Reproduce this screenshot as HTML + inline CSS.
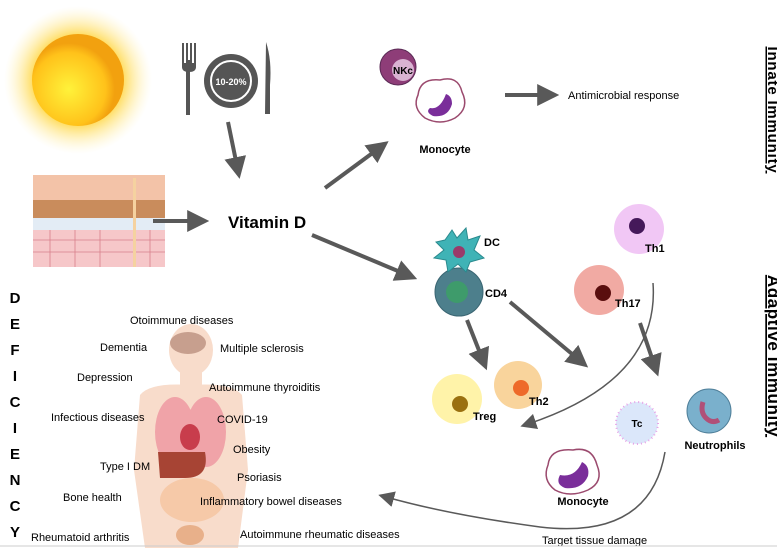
<!DOCTYPE html>
<html><head><meta charset="utf-8"><style>
body{margin:0;background:#fff;}
svg{display:block;font-family:"Liberation Sans",sans-serif;}
.b{font-weight:bold;}
</style></head><body>
<svg width="777" height="548" viewBox="0 0 777 548" xmlns="http://www.w3.org/2000/svg">
<defs>
<radialGradient id="glow"><stop offset="0.6" stop-color="#ffd84a" stop-opacity="0.9"/><stop offset="1" stop-color="#fff3c0" stop-opacity="0"/></radialGradient>
<radialGradient id="sun" cx="0.4" cy="0.6"><stop offset="0" stop-color="#fff23a"/><stop offset="0.8" stop-color="#ffc21a"/><stop offset="1" stop-color="#f2a10f"/></radialGradient>
<marker id="ah" viewBox="0 0 10 10" refX="4" refY="5" markerWidth="5.5" markerHeight="5.5" orient="auto"><path d="M0,0 L10,5 L0,10 z" fill="#595959"/></marker>
<marker id="ah2" viewBox="0 0 10 10" refX="5" refY="5" markerWidth="16" markerHeight="16" markerUnits="userSpaceOnUse" orient="auto"><path d="M0,0 L10,5 L0,10 z" fill="#595959"/></marker>
</defs>
<rect width="777" height="548" fill="#fff"/>
<!-- sun -->
<circle cx="78" cy="80" r="74" fill="url(#glow)"/>
<circle cx="78" cy="80" r="46" fill="url(#sun)"/>
<!-- plate -->
<rect x="186" y="60" width="4" height="55" fill="#555"/>
<path d="M182,43 h2 v20 h2 v-20 h2 v20 h2 v-20 h2 v20 h2 v-20 h2 v24 q0,5 -7,5 q-7,0 -7,-5z" fill="#555"/>
<circle cx="231" cy="81" r="27" fill="#555"/>
<circle cx="231" cy="81" r="20" fill="none" stroke="#fff" stroke-width="2"/>
<text x="231" y="85" font-size="9" class="b" fill="#fff" text-anchor="middle">10-20%</text>
<path d="M266,42 Q272,60 270,85 L270,114 L265,114 Z" fill="#555"/>
<!-- skin -->
<rect x="33" y="175" width="132" height="25" fill="#f3c3a8"/>
<rect x="33" y="200" width="132" height="18" fill="#c98c5c"/>
<rect x="33" y="218" width="132" height="12" fill="#e3ecf5"/>
<rect x="33" y="230" width="132" height="37" fill="#f6c7c9"/>
<g stroke="#d8808a" stroke-width="0.8" fill="none">
<path d="M33,240 h132 M33,252 h132 M50,230 v37 M75,230 v37 M100,230 v37 M150,230 v37"/></g>
<rect x="133" y="178" width="3" height="89" fill="#f5d2a0"/>
<!-- arrows -->
<g stroke="#595959" stroke-width="4" fill="none">
<line x1="228" y1="122" x2="237" y2="166" marker-end="url(#ah)"/>
<line x1="153" y1="221" x2="196" y2="221" marker-end="url(#ah)"/>
<line x1="325" y1="188" x2="378" y2="149" marker-end="url(#ah)"/>
<line x1="505" y1="95" x2="546" y2="95" marker-end="url(#ah)"/>
<line x1="312" y1="235" x2="405" y2="274" marker-end="url(#ah)"/>
<line x1="467" y1="320" x2="482" y2="358" marker-end="url(#ah)"/>
<line x1="510" y1="302" x2="578" y2="359" marker-end="url(#ah)"/>
<line x1="640" y1="323" x2="654" y2="364" marker-end="url(#ah)"/>
</g>
<g stroke="#595959" stroke-width="1.5" fill="none">
<path d="M653,283 Q660,380 528,424" marker-end="url(#ah2)"/>
<path d="M665,452 Q650,540 540,527 Q450,515 386,497" marker-end="url(#ah2)"/>
</g>
<text x="228" y="228" font-size="17" class="b">Vitamin D</text>
<!-- NKc -->
<circle cx="398" cy="67" r="18" fill="#8e3d78" stroke="#5a2a55"/>
<circle cx="403" cy="70" r="11" fill="#d9b3d2"/>
<text x="403" y="74" font-size="10" class="b" text-anchor="middle">NKc</text>
<!-- monocyte top -->
<path d="M418,95 Q420,78 440,80 Q458,75 462,92 Q470,108 455,118 Q440,126 425,118 Q412,108 418,95Z" fill="#fff" stroke="#9b4a6e" stroke-width="1.5"/>
<path d="M430,108 Q440,110 446,94 Q452,96 452,104 Q448,118 433,116 Q425,112 430,108Z" fill="#7a2e9a"/>
<text x="445" y="153" font-size="11" class="b" text-anchor="middle">Monocyte</text>
<text x="568" y="99" font-size="11">Antimicrobial response</text>
<!-- vertical labels -->
<text transform="translate(768,110) rotate(90)" font-size="15" class="b" text-anchor="middle" text-decoration="underline" letter-spacing="0.8">Innate Immunity</text>
<text transform="translate(768,356) rotate(90)" font-size="17" class="b" text-anchor="middle" text-decoration="underline" letter-spacing="0.6">Adaptive Immunity</text>
<!-- DC / CD4 -->
<circle cx="459" cy="292" r="24" fill="#4d7f8c" stroke="#3a6572"/>
<circle cx="457" cy="292" r="11" fill="#3e9b6b"/>
<path d="M445,240 L452,230 L457,238 L466,228 L468,240 L480,236 L474,250 L484,258 L470,262 L466,272 L458,264 L448,272 L446,260 L434,258 L444,250 L436,242Z" fill="#3fb3b6" stroke="#2a8a8e"/>
<circle cx="459" cy="252" r="6" fill="#9a3a6a"/>
<text x="484" y="246" font-size="11" class="b">DC</text>
<text x="485" y="297" font-size="11" class="b">CD4</text>
<!-- Th1 Th17 -->
<circle cx="639" cy="229" r="25" fill="#f1c7f5"/>
<circle cx="637" cy="226" r="8" fill="#45195a"/>
<text x="645" y="252" font-size="11" class="b">Th1</text>
<circle cx="599" cy="290" r="25" fill="#f1aaa3"/>
<circle cx="603" cy="293" r="8" fill="#5a0e0e"/>
<text x="615" y="307" font-size="11" class="b">Th17</text>
<!-- Treg Th2 -->
<circle cx="457" cy="399" r="25" fill="#fff3a9"/>
<circle cx="460" cy="404" r="8" fill="#9a7010"/>
<text x="473" y="420" font-size="11" class="b">Treg</text>
<circle cx="518" cy="385" r="24" fill="#f9d49c"/>
<circle cx="521" cy="388" r="8" fill="#ee6a2a"/>
<text x="529" y="405" font-size="11" class="b">Th2</text>
<!-- Tc neutrophils -->
<circle cx="637" cy="423" r="21" fill="#dbe7fa" stroke="#e6a0e6" stroke-dasharray="1,3" stroke-width="2"/>
<text x="637" y="427" font-size="10" class="b" text-anchor="middle">Tc</text>
<circle cx="709" cy="411" r="22" fill="#7ab0cc" stroke="#4f7f99"/>
<path d="M703,402 Q700,412 706,418 Q712,424 719,420" stroke="#b05078" stroke-width="5" fill="none"/>
<text x="715" y="449" font-size="11" class="b" text-anchor="middle">Neutrophils</text>
<!-- monocyte bottom -->
<path d="M548,465 Q550,448 573,450 Q592,446 597,465 Q604,482 588,490 Q570,498 555,490 Q542,480 548,465Z" fill="#fff" stroke="#9b4a6e" stroke-width="1.5"/>
<path d="M560,475 Q575,478 582,462 Q590,466 588,476 Q582,490 565,488 Q555,484 560,475Z" fill="#7a2e9a"/>
<text x="583" y="505" font-size="11" class="b" text-anchor="middle">Monocyte</text>
<text x="542" y="544" font-size="11">Target tissue damage</text>
<!-- body -->
<g fill="#f8dccb">
<ellipse cx="191" cy="350" rx="22" ry="26"/>
<rect x="180" y="370" width="22" height="20"/>
<path d="M140,395 Q150,382 191,385 Q232,382 242,395 L248,470 L238,548 L145,548 L134,470Z"/>
</g>
<ellipse cx="188" cy="343" rx="18" ry="11" fill="#c79f8e"/>
<ellipse cx="175" cy="432" rx="20" ry="35" fill="#f0a3a8"/>
<ellipse cx="206" cy="432" rx="20" ry="35" fill="#f0a3a8"/>
<ellipse cx="190" cy="437" rx="10" ry="13" fill="#c83d4c"/>
<path d="M158,452 L205,452 Q210,478 185,478 L160,478Z" fill="#a74434"/>
<ellipse cx="192" cy="500" rx="32" ry="22" fill="#f6c9a8"/>
<ellipse cx="190" cy="535" rx="14" ry="10" fill="#e8b08a"/>
<!-- deficiency -->
<g font-size="15" class="b" text-anchor="middle">
<text x="15" y="303">D</text><text x="15" y="329">E</text><text x="15" y="355">F</text><text x="15" y="381">I</text><text x="15" y="407">C</text><text x="15" y="433">I</text><text x="15" y="459">E</text><text x="15" y="485">N</text><text x="15" y="511">C</text><text x="15" y="537">Y</text>
</g>
<g font-size="11">
<text x="130" y="324">Otoimmune diseases</text>
<text x="100" y="351">Dementia</text>
<text x="220" y="352">Multiple sclerosis</text>
<text x="77" y="381">Depression</text>
<text x="209" y="391">Autoimmune thyroiditis</text>
<text x="51" y="421">Infectious diseases</text>
<text x="217" y="423">COVID-19</text>
<text x="233" y="453">Obesity</text>
<text x="100" y="470">Type I DM</text>
<text x="237" y="481">Psoriasis</text>
<text x="63" y="501">Bone health</text>
<text x="200" y="505">Inflammatory bowel diseases</text>
<text x="31" y="541">Rheumatoid arthritis</text>
<text x="240" y="538">Autoimmune rheumatic diseases</text>
</g>
<line x1="0" y1="546" x2="777" y2="546" stroke="#ccc"/>
</svg>
</body></html>
